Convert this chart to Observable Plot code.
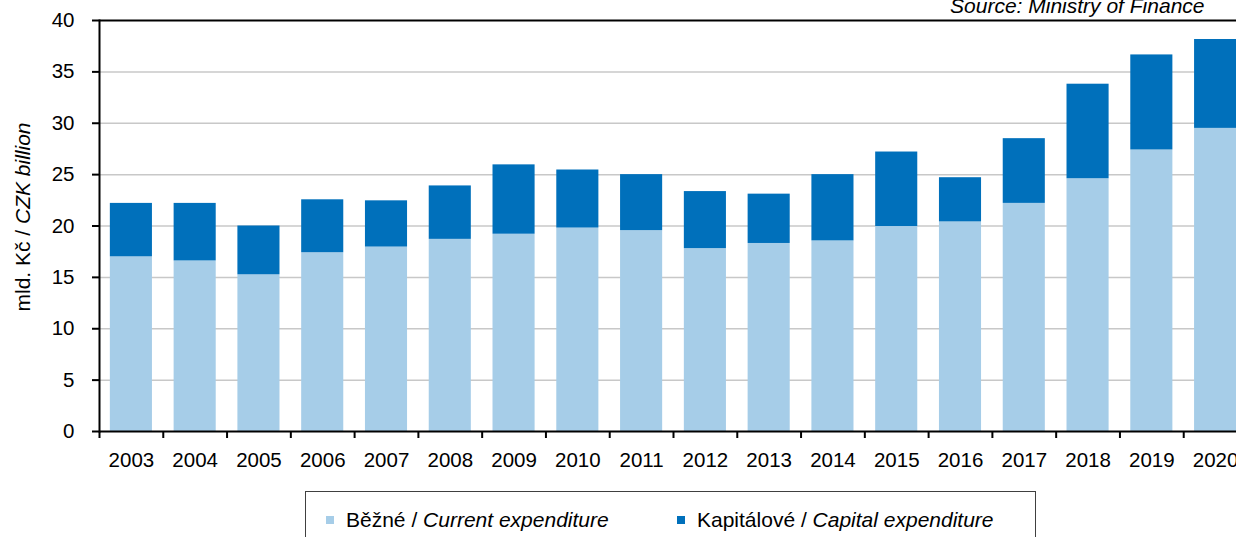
<!DOCTYPE html>
<html>
<head>
<meta charset="utf-8">
<script src="https://cdn.jsdelivr.net/npm/d3@7"></script>
<script src="https://cdn.jsdelivr.net/npm/@observablehq/plot@0.6"></script>
<style>
  html, body { margin: 0; padding: 0; background: #fff; overflow: hidden; }
  body { font-family: "Liberation Sans", Arial, sans-serif; color: #000; }
  #chart svg { display: block; }
  .legend { position: relative; margin-left: 305px; margin-top: 11px; width: 729px; height: 60px;
            border: 1.5px solid #404040; font-size: 21px; }
  .item { position: absolute; top: 16px; display: flex; align-items: center; white-space: nowrap; line-height: 24px; }
  .sw { width: 8px; height: 8px; margin-right: 12px; flex: none; }
</style>
</head>
<body>
<div id="chart"></div>
<div class="legend" id="legend"></div>
<script>
// ---- data ----
const years = ["2003","2004","2005","2006","2007","2008","2009","2010","2011","2012","2013","2014","2015","2016","2017","2018","2019","2020"];
const current = [17.0, 16.6, 15.25, 17.4, 17.95, 18.7, 19.2, 19.8, 19.55, 17.8, 18.3, 18.55, 19.95, 20.4, 22.2, 24.6, 27.4, 29.5];
const capital = [5.2, 5.6, 4.75, 5.15, 4.5, 5.2, 6.75, 5.65, 5.45, 5.55, 4.8, 6.45, 7.25, 4.3, 6.3, 9.2, 9.25, 8.65];
const seriesCz = ["Běžné", "Kapitálové"];
const seriesEn = ["Current expenditure", "Capital expenditure"];
const seriesColors = ["#a6cde8", "#0070bb"];
const yTicks = [0, 5, 10, 15, 20, 25, 30, 35, 40];
const gridTicks = [5, 10, 15, 20, 25, 30, 35];
const yLabelNormal = "mld. Kč / ";
const yLabelItalic = "CZK billion";
const sourceText = "Source: Ministry of Finance";

// ---- table ----
const rows = years.flatMap((yr, i) => [
  {year: yr, series: seriesCz[0], value: current[i]},
  {year: yr, series: seriesCz[1], value: capital[i]}
]);

const xRange = [99, 1247];
const step = (xRange[1] - xRange[0]) / years.length;
const barInset = 0.17 * step;

const chart = Plot.plot({
  width: 1236,
  height: 480,
  marginTop: 20,
  marginBottom: 49,
  marginLeft: 99,
  marginRight: 0,
  style: {fontFamily: "'Liberation Sans', Arial, sans-serif", fontSize: "20px", color: "#000", background: "#fff"},
  x: {type: "band", domain: years, range: xRange, padding: 0, round: false, label: null},
  y: {domain: [0, 40], label: null},
  color: {domain: seriesCz, range: seriesColors},
  marks: [
    Plot.gridY(gridTicks, {stroke: "#c8c8c8", strokeOpacity: 1, strokeWidth: 1.5}),
    Plot.barY(rows, {x: "year", y: "value", fill: "series", insetLeft: barInset, insetRight: barInset}),
    Plot.ruleY([40], {stroke: "#000", strokeWidth: 2}),
    Plot.ruleY([0], {stroke: "#000", strokeWidth: 2}),
    Plot.ruleX(years, {x: d => d, dx: -step / 2, y1: 0, y2: 0, insetBottom: -7, stroke: "#000", strokeWidth: 2}),
    Plot.frame({anchor: "left", stroke: "#000", strokeWidth: 2}),
    Plot.axisX({tickSize: 0, tickPadding: 21, fontSize: 20.5}),
    Plot.axisY(yTicks, {tickSize: 7, tickPadding: 18, strokeWidth: 2, fontSize: 20.5}),
    Plot.text([sourceText], {frameAnchor: "top-right", textAnchor: "end", lineAnchor: "bottom", dx: -32, dy: -7.3, fontStyle: "italic", fontSize: 21}),
    Plot.text([yLabelNormal + yLabelItalic], {frameAnchor: "left", rotate: -90, textAnchor: "middle", lineAnchor: "middle", dx: -76.5, dy: -9, fontSize: 21})
  ]
});
document.getElementById("chart").appendChild(chart);

// mixed-style y label
chart.querySelectorAll("text").forEach(t => {
  if (t.textContent === yLabelNormal + yLabelItalic) {
    t.textContent = "";
    t.style.whiteSpace = "pre";
    const ns = "http://www.w3.org/2000/svg";
    const a = document.createElementNS(ns, "tspan"); a.textContent = yLabelNormal;
    const b = document.createElementNS(ns, "tspan"); b.textContent = yLabelItalic; b.setAttribute("font-style", "italic");
    t.appendChild(a); t.appendChild(b);
  }
});

// legend
const legend = document.getElementById("legend");
const lefts = [20, 371];
seriesCz.forEach((s, i) => {
  const it = document.createElement("div");
  it.className = "item";
  it.style.left = lefts[i] + "px";
  const sw = document.createElement("span"); sw.className = "sw"; sw.style.background = seriesColors[i];
  const tx = document.createElement("span");
  tx.appendChild(document.createTextNode(s + " / "));
  const em = document.createElement("i"); em.textContent = seriesEn[i];
  tx.appendChild(em);
  it.appendChild(sw); it.appendChild(tx);
  legend.appendChild(it);
});
</script>
</body>
</html>
